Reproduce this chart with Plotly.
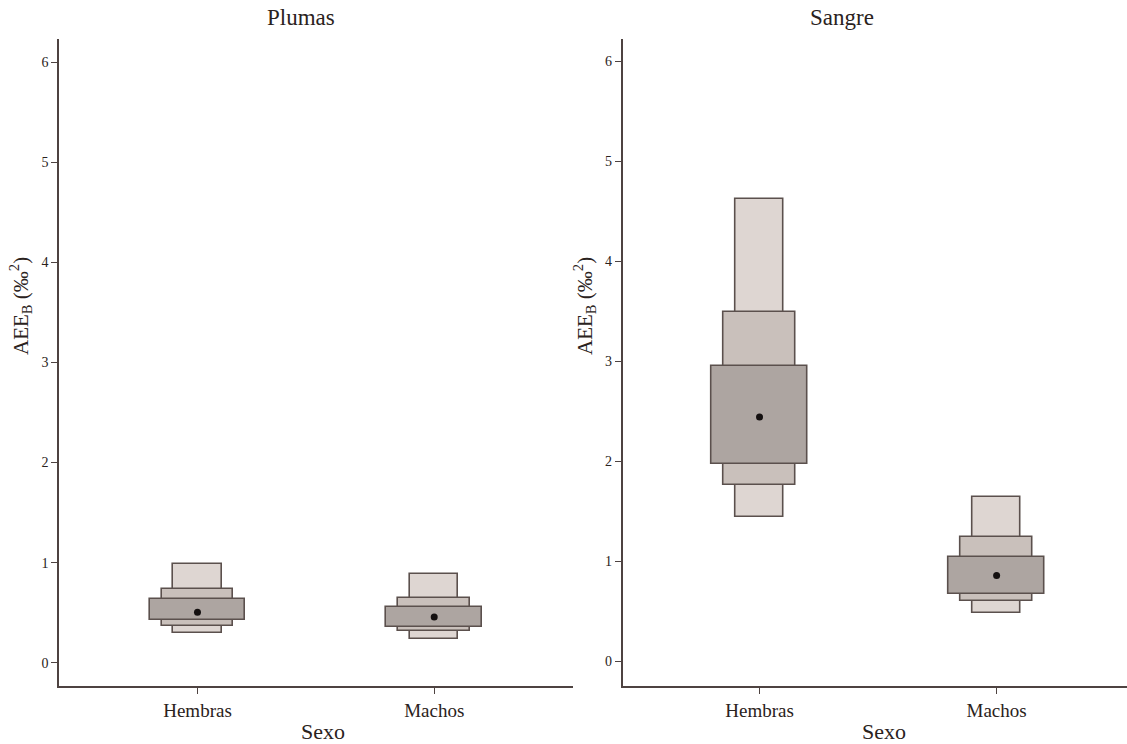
import plotly.graph_objects as go

# ---------------- data ----------------
panels = ["Plumas", "Sangre"]
sexo = ["Hembras", "Machos"]

# letter-value boxes: (lower, upper) for each level, per panel and sex
# level 1 = innermost (darkest, widest), level 3 = outermost (lightest, narrowest)
plumas_lv1_low = [0.425, 0.362]
plumas_lv1_high = [0.635, 0.555]
plumas_lv2_low = [0.368, 0.315]
plumas_lv2_high = [0.738, 0.652]
plumas_lv3_low = [0.302, 0.242]
plumas_lv3_high = [0.982, 0.885]
plumas_median = [0.505, 0.458]

sangre_lv1_low = [1.972, 0.680]
sangre_lv1_high = [2.956, 1.046]
sangre_lv2_low = [1.762, 0.610]
sangre_lv2_high = [3.490, 1.240]
sangre_lv3_low = [1.443, 0.486]
sangre_lv3_high = [4.620, 1.643]
sangre_median = [2.443, 0.860]

y_ticks = [0, 1, 2, 3, 4, 5, 6]

# ---------------- style ----------------
FONT = "Liberation Serif"
TXT = "#2a2220"
AX = "#4e4341"
EDGE = "#5b504d"
FILLS = {1: "#ada5a1", 2: "#c9c0bb", 3: "#ded6d2"}
WIDTHS = {1: 0.405, 2: 0.303, 3: 0.203}

W, H = 1127, 744
ML, MR, MT, MB = 59, 0, 39, 58
PW = W - ML - MR
PH = H - MT - MB


def px_x(px):
    return (px - ML) / PW


def px_y(py):
    return (H - MB - py) / PH


fig = go.Figure()

data = {
    "Plumas": {
        3: (plumas_lv3_low, plumas_lv3_high),
        2: (plumas_lv2_low, plumas_lv2_high),
        1: (plumas_lv1_low, plumas_lv1_high),
        "med": plumas_median,
    },
    "Sangre": {
        3: (sangre_lv3_low, sangre_lv3_high),
        2: (sangre_lv2_low, sangre_lv2_high),
        1: (sangre_lv1_low, sangre_lv1_high),
        "med": sangre_median,
    },
}

for i, p in enumerate(panels):
    xa = "x" if i == 0 else "x2"
    ya = "y" if i == 0 else "y2"
    for lvl in (3, 2, 1):
        lo, hi = data[p][lvl]
        fig.add_trace(go.Bar(
            x=sexo, y=[h - l for l, h in zip(lo, hi)], base=lo,
            width=WIDTHS[lvl],
            marker=dict(color=FILLS[lvl], line=dict(color=EDGE, width=1.6)),
            xaxis=xa, yaxis=ya, showlegend=False, hoverinfo="skip",
        ))
    fig.add_trace(go.Scatter(
        x=sexo, y=data[p]["med"], mode="markers",
        marker=dict(color="#141010", size=7),
        xaxis=xa, yaxis=ya, showlegend=False, hoverinfo="skip",
    ))

axis_common = dict(
    showline=True, linecolor=AX, linewidth=1.6, ticks="outside",
    ticklen=6, tickwidth=1.3, tickcolor=AX, showgrid=False, zeroline=False,
)

x_dom1 = [0, px_x(572.7)]
x_dom2 = [px_x(622.5), 1.0]

fig.update_layout(
    width=W, height=H,
    margin=dict(l=ML, r=MR, t=MT, b=MB),
    paper_bgcolor="white", plot_bgcolor="white",
    barmode="overlay", bargap=0,
    font=dict(family=FONT, color=TXT, size=14),
    xaxis=dict(domain=x_dom1, range=[-0.585, 1.585], type="category",
               tickfont=dict(size=19, family=FONT, color=TXT), **axis_common),
    xaxis2=dict(domain=x_dom2, range=[-0.578, 1.55], type="category", anchor="y2",
                tickfont=dict(size=19, family=FONT, color=TXT), **axis_common),
    yaxis=dict(domain=[0, 1], range=[-0.232, 6.232], tickvals=y_ticks,
               tickfont=dict(size=14, family=FONT, color=TXT), **axis_common),
    yaxis2=dict(domain=[0, 1], range=[-0.244, 6.22], tickvals=y_ticks, anchor="x2",
                tickfont=dict(size=14, family=FONT, color=TXT), **axis_common),
)

ann = []
# titles
ann.append(dict(text="Plumas", x=px_x(301), y=px_y(18), xref="paper", yref="paper",
                showarrow=False, font=dict(size=23, family=FONT, color=TXT),
                xanchor="center", yanchor="middle"))
ann.append(dict(text="Sangre", x=px_x(842), y=px_y(18), xref="paper", yref="paper",
                showarrow=False, font=dict(size=23, family=FONT, color=TXT),
                xanchor="center", yanchor="middle"))
# x titles
for cx in (323, 884):
    ann.append(dict(text="Sexo", x=px_x(cx), y=px_y(731), xref="paper", yref="paper",
                    showarrow=False, font=dict(size=22, family=FONT, color=TXT),
                    xanchor="center", yanchor="middle"))
# y titles
for cx in (20, 584):
    ann.append(dict(text="AEE<sub>B</sub> (‰<sup>2</sup>)", x=px_x(cx), y=px_y(306),
                    xref="paper", yref="paper", textangle=-90,
                    showarrow=False, font=dict(size=21, family=FONT, color=TXT),
                    xanchor="center", yanchor="middle"))
fig.update_layout(annotations=ann)

fig.write_html("out.html")
